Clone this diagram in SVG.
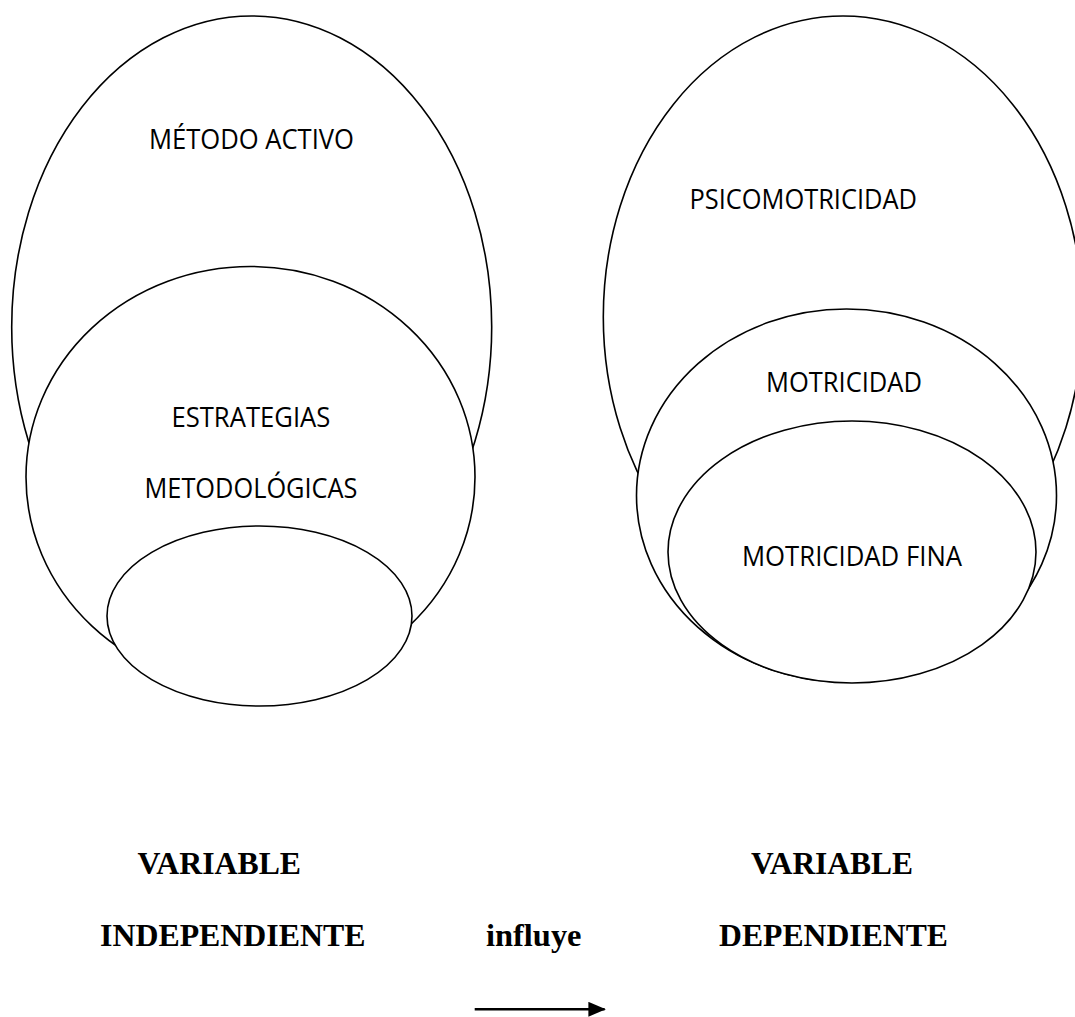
<svg xmlns="http://www.w3.org/2000/svg" width="1075" height="1017" viewBox="0 0 1075 1017">
<defs>
<style>
.shape{fill:#fff;stroke:#000;stroke-width:1.6}
.lbl{font-family:"Open Sans","Noto Sans",sans-serif;font-size:26.5px;fill:#000}
.var{font-family:"Liberation Serif","Times New Roman",serif;font-weight:bold;font-size:32px;fill:#000}
</style>
<marker id="ah" markerWidth="7" markerHeight="6" refX="6.5" refY="3" orient="auto" markerUnits="strokeWidth">
<path d="M0,0 L7,3 L0,6 Z" fill="#000"/>
</marker>
</defs>
<rect width="1075" height="1017" fill="#fff"/>
<g id="metodo-activo">
<ellipse class="shape" cx="251.7" cy="327" rx="240" ry="311"/>
<text class="lbl" x="149" y="149" textLength="205" lengthAdjust="spacingAndGlyphs">MÉTODO ACTIVO</text>
</g>
<g id="estrategias">
<ellipse class="shape" cx="250.5" cy="477" rx="224.5" ry="210.5"/>
<text class="lbl" x="171.4" y="427" textLength="159" lengthAdjust="spacingAndGlyphs">ESTRATEGIAS</text>
<text class="lbl" x="144.5" y="498" textLength="213" lengthAdjust="spacingAndGlyphs">METODOLÓGICAS</text>
</g>
<g id="inner-left">
<ellipse class="shape" cx="259.5" cy="616" rx="152.5" ry="90"/>
</g>
<g id="psicomotricidad">
<ellipse class="shape" cx="843" cy="317" rx="239.7" ry="301"/>
<text class="lbl" x="689.5" y="209" textLength="227.5" lengthAdjust="spacingAndGlyphs">PSICOMOTRICIDAD</text>
</g>
<g id="motricidad">
<ellipse class="shape" cx="846.5" cy="495.5" rx="210" ry="186.5"/>
<text class="lbl" x="766" y="391.7" textLength="156" lengthAdjust="spacingAndGlyphs">MOTRICIDAD</text>
</g>
<g id="motricidad-fina">
<ellipse class="shape" cx="852" cy="552" rx="184" ry="131"/>
<text class="lbl" x="742" y="566" textLength="220" lengthAdjust="spacingAndGlyphs">MOTRICIDAD FINA</text>
</g>
<g id="variable-independiente">
<text class="var" x="137.5" y="874" textLength="163.5" lengthAdjust="spacingAndGlyphs">VARIABLE</text>
<text class="var" x="100" y="945.7" textLength="265.5" lengthAdjust="spacingAndGlyphs">INDEPENDIENTE</text>
</g>
<g id="influye">
<text class="var" x="486" y="945.7" textLength="95.5" lengthAdjust="spacingAndGlyphs">influye</text>
</g>
<g id="variable-dependiente">
<text class="var" x="751" y="874" textLength="162" lengthAdjust="spacingAndGlyphs">VARIABLE</text>
<text class="var" x="719" y="945.7" textLength="229" lengthAdjust="spacingAndGlyphs">DEPENDIENTE</text>
</g>
<g id="connectors">
<line x1="474.7" y1="1009.3" x2="604.6" y2="1009.3" stroke="#000" stroke-width="2.5" marker-end="url(#ah)"/>
</g>
</svg>
